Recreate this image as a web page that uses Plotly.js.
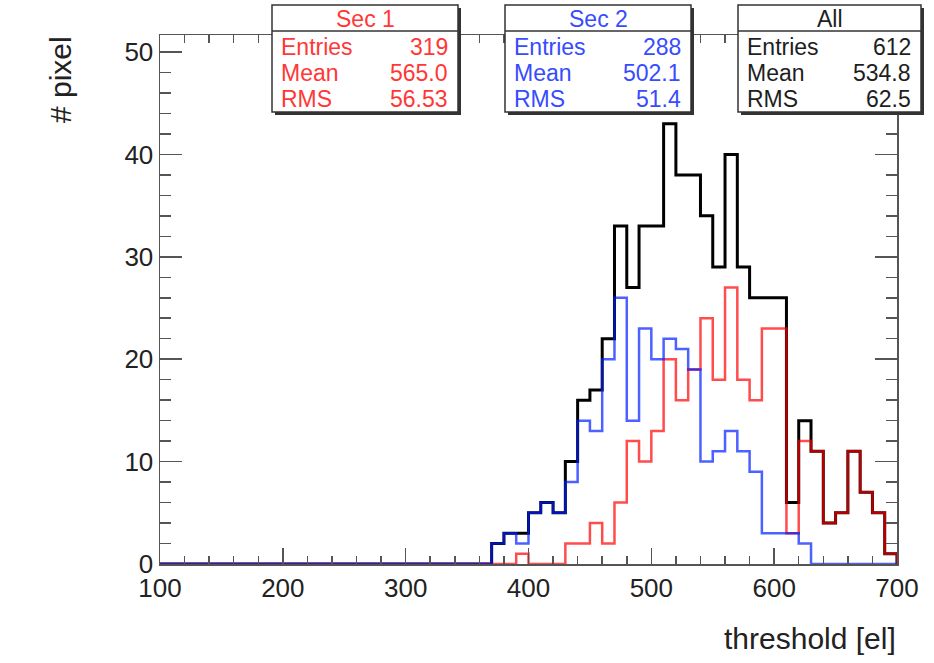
<!DOCTYPE html>
<html>
<head>
<meta charset="utf-8">
<script src="https://cdn.plot.ly/plotly-3.0.1.min.js"></script>
<style>html,body{margin:0;padding:0;background:#fff;}#chart{width:934px;height:663px;}</style>
</head>
<body>
<div id="chart"></div>
<script>
// Bin low edges (width 10) from 100 to 690; last edge 700
const binLow = [100,110,120,130,140,150,160,170,180,190,200,210,220,230,240,250,260,270,280,290,
                300,310,320,330,340,350,360,370,380,390,400,410,420,430,440,450,460,470,480,490,
                500,510,520,530,540,550,560,570,580,590,600,610,620,630,640,650,660,670,680,690];
const binHighEnd = 700;

const countsAll = [0,0,0,0,0,0,0,0,0,0,0,0,0,0,0,0,0,0,0,0,0,0,0,0,0,0,0,
  2,3,3,5,6,5,10,16,17,22,33,27,33,33,43,38,38,34,29,40,29,26,26,26,6,14,11,4,5,11,7,5,1];
const countsSec1 = [0,0,0,0,0,0,0,0,0,0,0,0,0,0,0,0,0,0,0,0,0,0,0,0,0,0,0,
  0,0,1,0,0,0,2,2,4,2,6,12,10,13,20,16,19,24,18,27,18,16,23,23,3,12,11,4,5,11,7,5,1];
const countsSec2 = [0,0,0,0,0,0,0,0,0,0,0,0,0,0,0,0,0,0,0,0,0,0,0,0,0,0,0,
  2,3,2,5,6,5,8,14,13,20,26,14,23,20,22,21,19,10,11,13,11,9,3,3,3,2,0,0,0,0,0,0,0];

const boxTitles = ["Sec 1", "Sec 2", "All"];
const statLabels = ["Entries", "Mean", "RMS"];
const statSec1 = ["319", "565.0", "56.53"];
const statSec2 = ["288", "502.1", "51.4"];
const statAll = ["612", "534.8", "62.5"];

const xTickVals = [100,200,300,400,500,600,700];
const yTickVals = [0,10,20,30,40,50];

// layout geometry (pixels)
const W = 934, H = 663;
const L = 160, R = 897, T = 35, B = 564;
const pw = R - L, ph = B - T;
const px = x => (x - L) / pw;
const py = y => (B - y) / ph;

function stepTrace(counts, color, width) {
  return {
    type: 'scatter', mode: 'lines',
    x: binLow.concat([binHighEnd]),
    y: counts.concat([0]),
    line: {shape: 'hv', color: color, width: width},
    hoverinfo: 'skip', showlegend: false
  };
}

const traces = [
  stepTrace(countsAll, 'rgb(0,0,0)', 3),
  stepTrace(countsSec1, 'rgba(255,0,0,0.7)', 2.5),
  stepTrace(countsSec2, 'rgba(0,30,255,0.7)', 2.5)
];

const FONT = 'Liberation Sans, Arial, Helvetica, sans-serif';
const shapes = [];
const annotations = [];
const boxes = [
  {l: 272, r: 458, color: 'rgb(255,55,55)', vals: statSec1, title: boxTitles[0]},
  {l: 505, r: 691, color: 'rgb(55,75,255)', vals: statSec2, title: boxTitles[1]},
  {l: 738, r: 921, color: 'rgb(30,30,30)', vals: statAll, title: boxTitles[2]}
];
const bt = 5, bb = 112, sep = 31;
const rowsY = [47, 73, 99];
boxes.forEach(bx => {
  shapes.push({type: 'rect', xref: 'paper', yref: 'paper',
    x0: px(bx.l + 3), x1: px(bx.r + 3), y0: py(bb + 3), y1: py(bt + 3),
    line: {width: 0}, fillcolor: '#333', layer: 'above'});
  shapes.push({type: 'rect', xref: 'paper', yref: 'paper',
    x0: px(bx.l), x1: px(bx.r), y0: py(bb), y1: py(bt),
    line: {width: 1.5, color: '#333'}, fillcolor: '#fff', layer: 'above'});
  shapes.push({type: 'line', xref: 'paper', yref: 'paper',
    x0: px(bx.l), x1: px(bx.r), y0: py(sep), y1: py(sep),
    line: {width: 1.5, color: '#333'}, layer: 'above'});
  annotations.push({xref: 'paper', yref: 'paper', x: px((bx.l + bx.r) / 2), y: py(19),
    text: bx.title, showarrow: false, xanchor: 'center', yanchor: 'middle',
    font: {family: FONT, size: 23, color: bx.color}});
  statLabels.forEach((lab, i) => {
    annotations.push({xref: 'paper', yref: 'paper', x: px(bx.l + 7), y: py(rowsY[i]),
      text: lab, showarrow: false, xanchor: 'left', yanchor: 'middle',
      font: {family: FONT, size: 23, color: bx.color}});
    annotations.push({xref: 'paper', yref: 'paper', x: px(bx.r - 8), y: py(rowsY[i]),
      text: bx.vals[i], showarrow: false, xanchor: 'right', yanchor: 'middle',
      font: {family: FONT, size: 23, color: bx.color}});
  });
});

annotations.push({xref: 'paper', yref: 'paper', x: px(898), y: py(638),
  text: 'threshold [el]', showarrow: false, xanchor: 'right', yanchor: 'middle',
  font: {family: FONT, size: 30, color: '#222'}});
annotations.push({xref: 'paper', yref: 'paper', x: px(60), y: py(80),
  text: '# pixel', showarrow: false, xanchor: 'center', yanchor: 'middle', textangle: -90,
  font: {family: FONT, size: 30, color: '#222'}});

const axisCommon = {
  showline: true, linecolor: '#555', linewidth: 1.5, mirror: 'allticks',
  ticks: 'inside', tickcolor: '#555', tickwidth: 1.5,
  showgrid: false, zeroline: false,
  tickfont: {family: FONT, size: 26, color: '#222'}
};

const layout = {
  width: W, height: H,
  margin: {l: L, r: W - R, t: T, b: H - B, pad: 0},
  paper_bgcolor: '#fff', plot_bgcolor: '#fff',
  xaxis: Object.assign({}, axisCommon, {
    range: [100, 700], tickmode: 'array', tickvals: xTickVals, ticklen: 16,
    minor: {dtick: 20, ticklen: 8, ticks: 'inside', tickcolor: '#555', tickwidth: 1.5}
  }),
  yaxis: Object.assign({}, axisCommon, {
    range: [0, 51.66], tickmode: 'array', tickvals: yTickVals, ticklen: 22,
    minor: {dtick: 2, ticklen: 11, ticks: 'inside', tickcolor: '#555', tickwidth: 1.5}
  }),
  shapes: shapes,
  annotations: annotations,
  showlegend: false
};

Plotly.newPlot('chart', traces, layout, {displayModeBar: false, staticPlot: true});
</script>
</body>
</html>
